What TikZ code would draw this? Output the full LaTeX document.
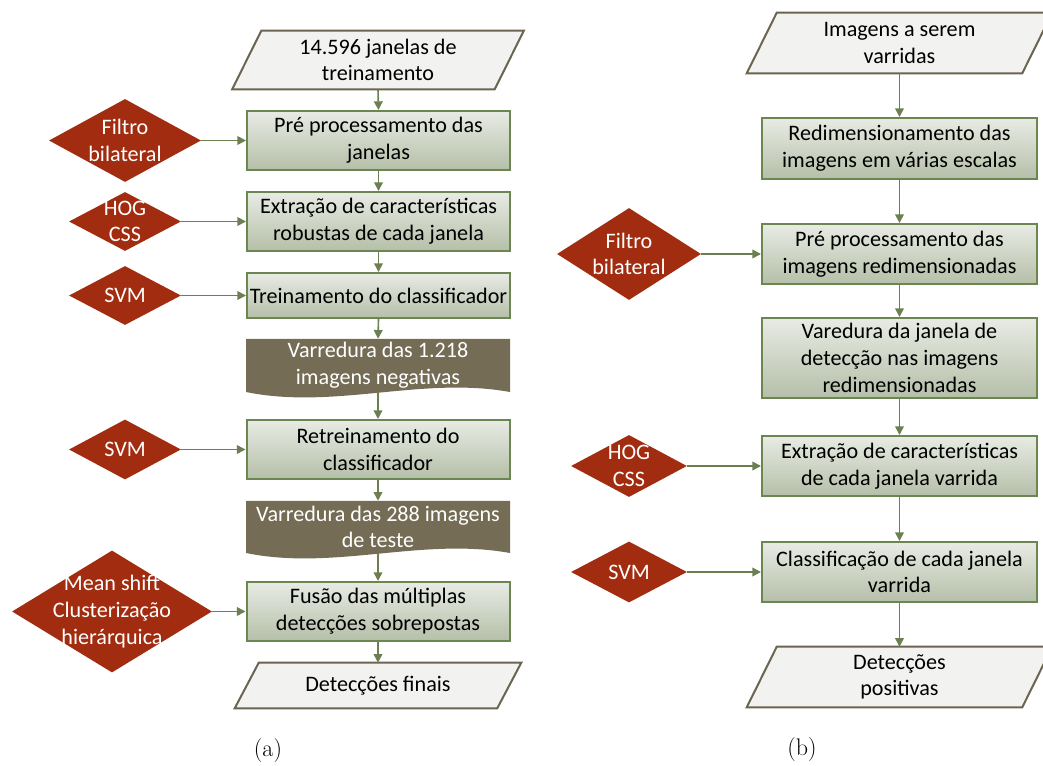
\documentclass[tikz,border=0pt]{standalone}
\usepackage{fontspec}
\setsansfont{Carlito}
\usetikzlibrary{shapes.geometric,arrows.meta,backgrounds}
\definecolor{boxtop}{HTML}{E8EBE4}
\definecolor{boxbot}{HTML}{B5BFA8}
\definecolor{boxline}{HTML}{6B8650}
\definecolor{arrowc}{HTML}{6B7F50}
\definecolor{dia}{HTML}{A22C10}
\definecolor{docc}{HTML}{756C55}
\definecolor{parafill}{HTML}{F2F2F0}
\definecolor{paraline}{HTML}{6A6450}
\tikzset{
  every node/.style={font=\sffamily\fontsize{16.6}{20}\selectfont, inner sep=0pt, align=center},
  procbox/.style 2 args={draw=boxline, line width=1.5pt, top color=boxtop, bottom color=boxbot,
     minimum width=#1*0.75pt, minimum height=#2*0.75pt},
  plain/.style 2 args={minimum width=#1*0.75pt, minimum height=#2*0.75pt},
  decis/.style 2 args={shape=diamond, fill=dia, draw=none, minimum width=#1*0.75pt,
     minimum height=#2*0.75pt, inner sep=0pt},
  wtext/.style={text=white},
  para/.style={draw=paraline, fill=parafill, line width=1.5pt, line join=miter},
  docshape/.style={fill=docc},
  conn/.style={draw=arrowc, line width=1.2pt, -{Triangle[length=6.5pt,width=6.5pt]}},
  captxt/.style={font=\rmfamily\fontsize{18}{20}\selectfont}
}
\begin{document}
\begin{tikzpicture}[x=0.75pt,y=-0.75pt]
\useasboundingbox (0,0) rectangle (1043,766);

% ---------------- (a) ----------------
\node[plain={262}{58}] (in1) at (378,60) {14.596 janelas de\\treinamento};
\node[procbox={263}{59}] (b1) at (378.5,140.5) {Pré processamento das\\janelas};
\node[procbox={263}{59}] (b2) at (378.5,221.5) {Extração de características\\robustas de cada janela};
\node[procbox={263}{45}] (b3) at (378.5,295.5) {Treinamento do classificador};
\node[plain={264}{53}, wtext] (d1) at (378,365.5) {Varredura das 1.218\\imagens negativas};
\node[procbox={263}{59}] (b4) at (378,449.5) {Retreinamento do\\classificador};
\node[plain={264}{52}, wtext] (d2) at (378,527) {Varredura das 288 imagens\\de teste};
\node[procbox={263}{59}] (b5) at (378,611.5) {Fusão das múltiplas\\detecções sobrepostas};
\node[plain={262}{45}] (out1) at (378,685.5) {Detecções finais};

\node[decis={152}{83}, label={[wtext]center:Filtro\\bilateral}] (f1) at (125,140.5) {};
\node[decis={112}{59}, label={[wtext]center:HOG\\CSS}] (h1) at (125,221.5) {};
\node[decis={112}{59}, label={[wtext]center:SVM}] (s1) at (125,295.5) {};
\node[decis={112}{60}, label={[wtext]center:SVM}] (s2) at (125,449.5) {};
\node[decis={200}{122}, label={[wtext]center:Mean shift\\Clusterização\\hierárquica}] (m1) at (112,611.5) {};

\begin{scope}[on background layer]
\draw[para] ([xshift=10.9pt]in1.north west) -- ([xshift=10.9pt]in1.north east)
  -- ([xshift=-10.9pt]in1.south east) -- ([xshift=-10.9pt]in1.south west) -- cycle;
\draw[para] ([xshift=9pt]out1.north west) -- ([xshift=9pt]out1.north east)
  -- ([xshift=-9pt]out1.south east) -- ([xshift=-9pt]out1.south west) -- cycle;
\fill[docshape] (246,339) -- (510,339) -- (510,392) .. controls (422,376) and (334,410) .. (246,392) -- cycle;
\fill[docshape] (246,501) -- (510,501) -- (510,553) .. controls (422,537) and (334,571) .. (246,553) -- cycle;
\end{scope}

\draw[conn] (in1.south) -- (b1.north);
\draw[conn] (b1.south) -- (b2.north);
\draw[conn] (b2.south) -- (b3.north);
\draw[conn] (b3.south) -- (d1.north);
\draw[conn] (d1.south) -- (b4.north);
\draw[conn] (b4.south) -- (d2.north);
\draw[conn] (d2.south) -- (b5.north);
\draw[conn] (b5.south) -- (out1.north);

\draw[conn] (f1.east) -- (f1.east -| b1.west);
\draw[conn] (h1.east) -- (h1.east -| b2.west);
\draw[conn] (s1.east) -- (s1.east -| b3.west);
\draw[conn] (s2.east) -- (s2.east -| b4.west);
\draw[conn] (m1.east) -- (m1.east -| b5.west);

\node[captxt] (capa) at (268,751) {(a)};

% ---------------- (b) ----------------
\node[plain={275}{60}] (in2) at (899.5,43) {Imagens a serem\\varridas};
\node[procbox={275}{61}] (r1) at (899.5,148.5) {Redimensionamento das\\imagens em várias escalas};
\node[procbox={275}{60}] (r2) at (899.5,254) {Pré processamento das\\imagens redimensionadas};
\node[procbox={275}{80}] (r3) at (899.5,358) {Varedura da janela de\\detecção nas imagens\\redimensionadas};
\node[procbox={275}{60}] (r4) at (899.5,466) {Extração de características\\de cada janela varrida};
\node[procbox={275}{60}] (r5) at (899.5,572) {Classificação de cada janela\\varrida};
\node[plain={275}{60}] (out2) at (899.5,677) {Detecções\\positivas};

\node[decis={144}{92}, label={[wtext]center:Filtro\\bilateral}] (f2) at (629,254) {};
\node[decis={116}{62}, label={[wtext]center:HOG\\CSS}] (h2) at (629,466) {};
\node[decis={116}{61}, label={[wtext]center:SVM}] (s3) at (629,572) {};

\begin{scope}[on background layer]
\draw[para] ([xshift=11.25pt]in2.north west) -- ([xshift=11.25pt]in2.north east)
  -- ([xshift=-11.25pt]in2.south east) -- ([xshift=-11.25pt]in2.south west) -- cycle;
\draw[para] ([xshift=11.25pt]out2.north west) -- ([xshift=11.25pt]out2.north east)
  -- ([xshift=-11.25pt]out2.south east) -- ([xshift=-11.25pt]out2.south west) -- cycle;
\end{scope}

\draw[conn] (in2.south) -- (r1.north);
\draw[conn] (r1.south) -- (r2.north);
\draw[conn] (r2.south) -- (r3.north);
\draw[conn] (r3.south) -- (r4.north);
\draw[conn] (r4.south) -- (r5.north);
\draw[conn] (r5.south) -- (out2.north);

\draw[conn] (f2.east) -- (f2.east -| r2.west);
\draw[conn] (h2.east) -- (h2.east -| r4.west);
\draw[conn] (s3.east) -- (s3.east -| r5.west);

\node[captxt] (capb) at (802,750) {(b)};
\end{tikzpicture}
\end{document}
